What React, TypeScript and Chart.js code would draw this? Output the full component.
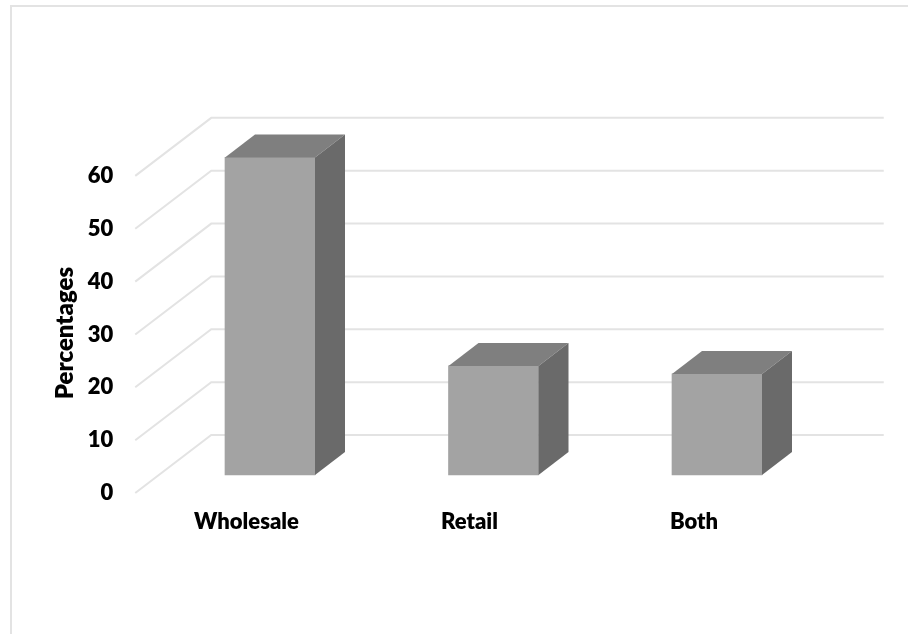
import React, { useEffect, useRef } from "react";
import { Chart, registerables } from "chart.js";

Chart.register(...registerables);

const categories = ["Wholesale", "Retail", "Both"];
const percentages = [60, 20.6, 19.1];
const tickValues = [0, 10, 20, 30, 40, 50, 60];
const categoryLabelShift = [-23.5, -24, -23];

const FONT = "Lato, Carlito, sans-serif";
const DEPTH_X = 30;
const DEPTH_Y = 23;
const WALL_DX = 76;
const WALL_DY = 58;

const view3d = {
  id: "view3d",
  beforeDatasetsDraw(chart: any) {
    const { ctx, scales, chartArea } = chart;
    const axis = scales.yTicks;
    ctx.save();
    ctx.strokeStyle = "#e3e3e3";
    ctx.lineWidth = 2;
    ctx.lineJoin = "miter";
    for (const v of tickValues) {
      const y = axis.getPixelForValue(v);
      const x0 = chartArea.left - 23;
      ctx.beginPath();
      ctx.moveTo(x0, y);
      ctx.lineTo(x0 + WALL_DX, y - WALL_DY);
      ctx.lineTo(chartArea.right + 55, y - WALL_DY);
      ctx.stroke();
    }
    ctx.restore();
  },
  afterDatasetsDraw(chart: any) {
    const { ctx, scales } = chart;
    const meta = chart.getDatasetMeta(0);
    ctx.save();
    meta.data.forEach((bar: any) => {
      const l = bar.x - bar.width / 2;
      const r = bar.x + bar.width / 2;
      const t = bar.y;
      const b = bar.base;
      ctx.fillStyle = "#7f7f7f";
      ctx.beginPath();
      ctx.moveTo(l, t);
      ctx.lineTo(l + DEPTH_X, t - DEPTH_Y);
      ctx.lineTo(r + DEPTH_X, t - DEPTH_Y);
      ctx.lineTo(r, t);
      ctx.closePath();
      ctx.fill();
      ctx.fillStyle = "#6a6a6a";
      ctx.beginPath();
      ctx.moveTo(r, t);
      ctx.lineTo(r + DEPTH_X, t - DEPTH_Y);
      ctx.lineTo(r + DEPTH_X, b - DEPTH_Y);
      ctx.lineTo(r, b);
      ctx.closePath();
      ctx.fill();
    });
    ctx.fillStyle = "#000000";
    ctx.font = `800 22px ${FONT}`;
    ctx.textAlign = "center";
    ctx.textBaseline = "middle";
    const labelY = scales.yBars.getPixelForValue(0) + 47;
    categories.forEach((c, i) => {
      ctx.fillText(c, scales.x.getPixelForValue(i) + categoryLabelShift[i], labelY);
    });
    ctx.restore();
  },
};

export default function App() {
  const ref = useRef<HTMLCanvasElement>(null);
  useEffect(() => {
    const chart = new Chart(ref.current as HTMLCanvasElement, {
      type: "bar",
      data: {
        labels: categories,
        datasets: [
          {
            label: "Percentages",
            data: percentages,
            yAxisID: "yBars",
            backgroundColor: "#a3a3a3",
            borderWidth: 0,
            barThickness: 90,
          },
        ],
      },
      plugins: [view3d],
      options: {
        animation: false,
        responsive: false,
        layout: { padding: { top: 123, bottom: 91, right: 79.25, left: 0 } },
        plugins: { legend: { display: false }, tooltip: { enabled: false } },
        scales: {
          x: {
            grid: { display: false },
            border: { display: false },
            ticks: { display: false },
            afterFit: (axis: any) => {
              axis.height = 0;
            },
          },
          yBars: { display: false, min: -12.85, max: 66.5 },
          yTicks: {
            position: "left",
            min: -9.45,
            max: 70,
            grid: { display: false },
            border: { display: false },
            afterBuildTicks: (axis: any) => {
              axis.ticks = tickValues.map((value) => ({ value }));
            },
            afterFit: (axis: any) => {
              axis.width = 158.25;
            },
            ticks: {
              padding: 37,
              color: "#000000",
              font: { family: FONT, size: 22, weight: "800" },
              autoSkip: false,
            },
            title: {
              display: true,
              text: "Percentages",
              color: "#000000",
              font: { family: FONT, size: 24, weight: "800" },
              padding: { top: 50.5, bottom: 0 },
            },
          },
        },
      } as any,
    });
    return () => chart.destroy();
  }, []);
  return (
    <div style={{ position: "absolute", left: 0, top: 0, width: 908, height: 634, overflow: "hidden", background: "#fff" }}>
      <canvas ref={ref} width={908} height={634} style={{ display: "block" }} />
      <div style={{ position: "absolute", left: 10, top: 5, width: 910, height: 640, border: "2px solid #e3e3e3", boxSizing: "border-box", pointerEvents: "none" }} />
    </div>
  );
}
